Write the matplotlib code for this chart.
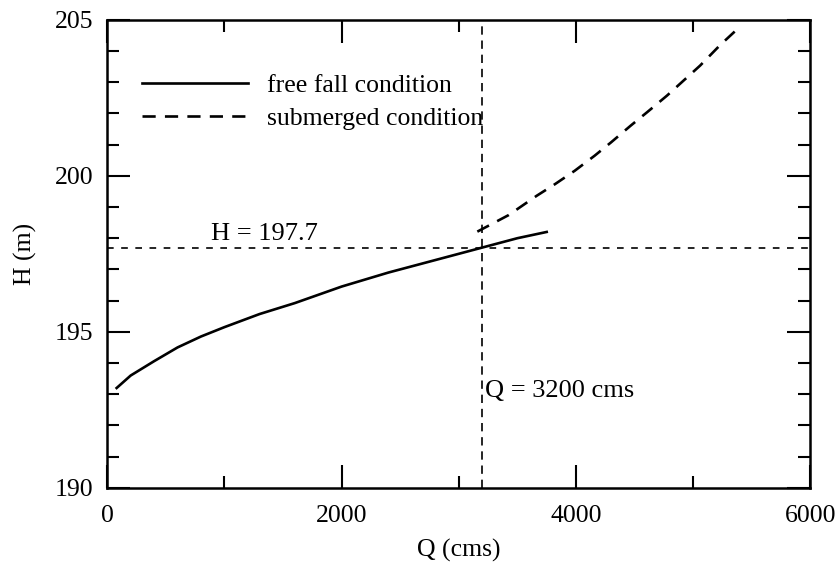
import numpy as np
import matplotlib
matplotlib.use('Agg')
from matplotlib import pyplot as plt
from matplotlib.ticker import MultipleLocator

# free fall rating curve
q_free = [80, 200, 400, 600, 800, 1000, 1300, 1600, 2000, 2400, 2800, 3200, 3500, 3750]
h_free = [193.2, 193.6, 194.06, 194.5, 194.85, 195.15, 195.57, 195.92, 196.45, 196.9, 197.3, 197.7, 198.0, 198.2]

# submerged rating curve
q_sub = [3158, 3425, 3665, 3820, 3989, 4158, 4299, 4468, 4608, 4777, 4918, 5059, 5228, 5397]
h_sub = [198.21, 198.74, 199.36, 199.73, 200.16, 200.64, 201.07, 201.61, 202.04, 202.57, 203.05, 203.53, 204.18, 204.77]

q_crit = 3200
h_crit = 197.7

plt.rcParams['font.family'] = ['Liberation Serif', 'DejaVu Serif']

fig = plt.figure(figsize=(8.38, 5.64), dpi=100)
ax = fig.add_axes([0.128, 0.135, 0.839, 0.830])

ax.plot(q_free, h_free, color='black', lw=1.9, label='free fall condition')
ax.plot(q_sub, h_sub, color='black', lw=1.9, dashes=(5, 3.5), label='submerged condition')

ax.axhline(h_crit, color='black', lw=1.2, dashes=(4, 4.5))
ax.axvline(q_crit, color='black', lw=1.2, dashes=(5, 3.5))

ax.text(1345, h_crit + 0.08, 'H = 197.7', fontsize=19, ha='center', va='bottom')
ax.text(q_crit + 25, 193.1, 'Q = 3200 cms', fontsize=19, ha='left', va='center')

ax.set_xlim(0, 6000)
ax.set_ylim(190, 205)
ax.xaxis.set_major_locator(MultipleLocator(2000))
ax.xaxis.set_minor_locator(MultipleLocator(1000))
ax.yaxis.set_major_locator(MultipleLocator(5))
ax.yaxis.set_minor_locator(MultipleLocator(1))
ax.tick_params(which='both', direction='in', top=True, right=True, labelsize=18.5)
ax.tick_params(axis='x', which='both', pad=12)
ax.tick_params(axis='y', which='both', pad=10)
ax.tick_params(which='major', length=16.5, width=1.5)
ax.tick_params(which='minor', length=8.5, width=1.5)
for s in ax.spines.values():
    s.set_linewidth(1.8)

ax.set_xlabel('Q (cms)', fontsize=18.5, labelpad=9)
ax.set_ylabel('H (m)', fontsize=18.5, labelpad=13)

leg = ax.legend(loc='upper left', bbox_to_anchor=(0.05, 0.884), frameon=False,
                fontsize=18.5, handlelength=4.12, handletextpad=0.74, labelspacing=0.40,
                borderpad=0, borderaxespad=0)

fig.savefig('out.png', dpi=100)
